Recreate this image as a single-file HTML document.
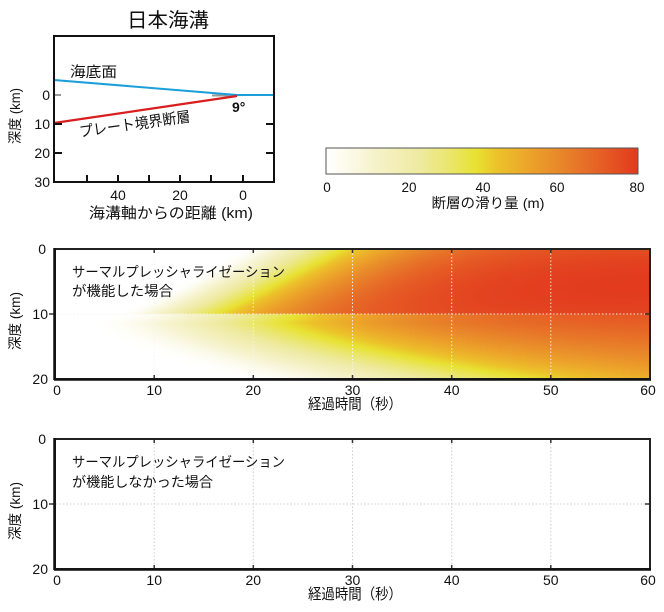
<!DOCTYPE html>
<html><head><meta charset="utf-8">
<style>
html,body{margin:0;padding:0;background:#fff;}
body{width:664px;height:612px;position:relative;overflow:hidden;}
#hm{position:absolute;left:55px;top:249px;width:595px;height:130px;}
svg{position:absolute;left:0;top:0;}
text{font-family:"Liberation Sans","Noto Sans CJK JP",sans-serif;fill:#111;}
</style></head>
<body>
<canvas id="hm" width="595" height="130"></canvas>
<svg width="664" height="612" viewBox="0 0 664 612">
<defs>
<linearGradient id="cb" x1="0" y1="0" x2="1" y2="0">
<stop offset="0" stop-color="#ffffff"/>
<stop offset="0.05" stop-color="#fdfcf0"/>
<stop offset="0.15" stop-color="#f6f3cd"/>
<stop offset="0.3" stop-color="#eeeaa0"/>
<stop offset="0.4" stop-color="#eae66a"/>
<stop offset="0.48" stop-color="#e8e232"/>
<stop offset="0.55" stop-color="#ecc22a"/>
<stop offset="0.65" stop-color="#eca42a"/>
<stop offset="0.75" stop-color="#e8872a"/>
<stop offset="0.87" stop-color="#e66226"/>
<stop offset="1" stop-color="#e23a1e"/>
</linearGradient>
</defs>

<!-- ===== Top plot ===== -->
<text x="168" y="27" font-size="20" text-anchor="middle" textLength="82" lengthAdjust="spacingAndGlyphs">日本海溝</text>
<g stroke="#999" stroke-width="2"><line x1="212" y1="95.5" x2="237" y2="95.5"/><line x1="54" y1="95" x2="61" y2="95"/></g>
<polyline points="54,80 237,95 274,95" fill="none" stroke="#1a9fd8" stroke-width="2"/>
<line x1="54" y1="123" x2="237" y2="96" stroke="#d81e1e" stroke-width="2.2"/>
<g stroke="#111" stroke-width="2">
<line x1="87" y1="182" x2="87" y2="175"/><line x1="118" y1="182" x2="118" y2="175"/>
<line x1="149" y1="182" x2="149" y2="175"/><line x1="180" y1="182" x2="180" y2="175"/>
<line x1="211" y1="182" x2="211" y2="175"/><line x1="243" y1="182" x2="243" y2="175"/>
<line x1="54" y1="124" x2="62" y2="124"/><line x1="54" y1="153" x2="62" y2="153"/>
<line x1="274" y1="124" x2="266" y2="124"/><line x1="274" y1="153" x2="266" y2="153"/>
</g>
<rect x="54" y="36" width="220" height="146" fill="none" stroke="#111" stroke-width="2"/>
<text x="70" y="77" font-size="14.5" textLength="47" lengthAdjust="spacingAndGlyphs">海底面</text>
<text x="0" y="0" font-size="15" transform="translate(80,137) rotate(-8)" textLength="112" lengthAdjust="spacingAndGlyphs">プレート境界断層</text>
<text x="232" y="112" font-size="14" font-weight="bold">9°</text>
<g font-size="14" text-anchor="end">
<text x="50" y="100">0</text><text x="50" y="129">10</text>
<text x="50" y="158">20</text><text x="50" y="187">30</text>
</g>
<g font-size="14" text-anchor="middle">
<text x="118" y="200">40</text><text x="180" y="200">20</text><text x="243" y="200">0</text>
</g>
<text x="171" y="218" font-size="15" text-anchor="middle" textLength="164" lengthAdjust="spacingAndGlyphs">海溝軸からの距離 (km)</text>
<text transform="translate(20,116) rotate(-90)" font-size="14" text-anchor="middle" textLength="56" lengthAdjust="spacingAndGlyphs">深度 (km)</text>

<!-- ===== Colorbar ===== -->
<rect x="326" y="148" width="312" height="26" fill="url(#cb)" stroke="#555" stroke-width="1"/>
<g font-size="13.5" text-anchor="middle">
<text x="327" y="192">0</text><text x="409" y="192">20</text><text x="483" y="192">40</text>
<text x="557" y="192">60</text><text x="637" y="192">80</text>
</g>
<text x="488" y="208" font-size="14" text-anchor="middle" textLength="113" lengthAdjust="spacingAndGlyphs">断層の滑り量 (m)</text>

<!-- ===== Middle plot ===== -->
<g stroke="#f4f4f4" stroke-width="1" stroke-dasharray="1.5,2" opacity="0.9">
<line x1="154.2" y1="250" x2="154.2" y2="378"/><line x1="253.3" y1="250" x2="253.3" y2="378"/>
<line x1="352.5" y1="250" x2="352.5" y2="378"/><line x1="451.7" y1="250" x2="451.7" y2="378"/>
<line x1="550.8" y1="250" x2="550.8" y2="378"/><line x1="56" y1="314" x2="649" y2="314"/>
</g>
<g stroke="#333" stroke-width="1.5">
<line x1="154.2" y1="249" x2="154.2" y2="253"/><line x1="253.3" y1="249" x2="253.3" y2="253"/>
<line x1="352.5" y1="249" x2="352.5" y2="253"/><line x1="451.7" y1="249" x2="451.7" y2="253"/>
<line x1="550.8" y1="249" x2="550.8" y2="253"/>
<line x1="154.2" y1="379" x2="154.2" y2="375"/><line x1="253.3" y1="379" x2="253.3" y2="375"/>
<line x1="352.5" y1="379" x2="352.5" y2="375"/><line x1="451.7" y1="379" x2="451.7" y2="375"/>
<line x1="550.8" y1="379" x2="550.8" y2="375"/>
<line x1="650" y1="314" x2="645" y2="314"/><line x1="49" y1="314" x2="55" y2="314"/>
</g>
<rect x="55" y="249" width="595" height="130" fill="none" stroke="#222" stroke-width="2"/>
<line x1="54.5" y1="248" x2="54.5" y2="380" stroke="#111" stroke-width="2.5"/>
<line x1="54" y1="379.5" x2="651" y2="379.5" stroke="#111" stroke-width="2.5"/>
<text x="72" y="277" font-size="14" textLength="213" lengthAdjust="spacingAndGlyphs">サーマルプレッシャライゼーション</text>
<text x="72" y="296" font-size="14" textLength="101" lengthAdjust="spacingAndGlyphs">が機能した場合</text>
<g font-size="14" text-anchor="end">
<text x="46" y="254">0</text><text x="48" y="319">10</text><text x="48" y="384">20</text>
</g>
<g font-size="14" text-anchor="middle">
<text x="57" y="395">0</text><text x="154.2" y="395">10</text><text x="253.3" y="395">20</text>
<text x="352.5" y="395">30</text><text x="451.7" y="395">40</text><text x="550.8" y="395">50</text>
<text x="648" y="395">60</text>
</g>
<text x="355" y="409" font-size="15" text-anchor="middle" textLength="94" lengthAdjust="spacingAndGlyphs">経過時間（秒）</text>
<text transform="translate(20,321) rotate(-90)" font-size="14" text-anchor="middle" textLength="58" lengthAdjust="spacingAndGlyphs">深度 (km)</text>

<!-- ===== Bottom plot ===== -->
<g stroke="#cfcfcf" stroke-width="1" stroke-dasharray="1.5,2">
<line x1="154.2" y1="440" x2="154.2" y2="568"/><line x1="253.3" y1="440" x2="253.3" y2="568"/>
<line x1="352.5" y1="440" x2="352.5" y2="568"/><line x1="451.7" y1="440" x2="451.7" y2="568"/>
<line x1="550.8" y1="440" x2="550.8" y2="568"/><line x1="56" y1="504" x2="649" y2="504"/>
</g>
<g stroke="#333" stroke-width="1.5">
<line x1="154.2" y1="439" x2="154.2" y2="443"/><line x1="253.3" y1="439" x2="253.3" y2="443"/>
<line x1="352.5" y1="439" x2="352.5" y2="443"/><line x1="451.7" y1="439" x2="451.7" y2="443"/>
<line x1="550.8" y1="439" x2="550.8" y2="443"/>
<line x1="154.2" y1="569" x2="154.2" y2="565"/><line x1="253.3" y1="569" x2="253.3" y2="565"/>
<line x1="352.5" y1="569" x2="352.5" y2="565"/><line x1="451.7" y1="569" x2="451.7" y2="565"/>
<line x1="550.8" y1="569" x2="550.8" y2="565"/>
<line x1="650" y1="504" x2="645" y2="504"/><line x1="49" y1="504" x2="55" y2="504"/>
</g>
<rect x="55" y="439" width="595" height="130" fill="none" stroke="#222" stroke-width="2"/>
<line x1="54.5" y1="438" x2="54.5" y2="570" stroke="#111" stroke-width="2.5"/>
<line x1="54" y1="569.5" x2="651" y2="569.5" stroke="#111" stroke-width="2.5"/>
<text x="72" y="467" font-size="14" textLength="213" lengthAdjust="spacingAndGlyphs">サーマルプレッシャライゼーション</text>
<text x="72" y="487" font-size="14" textLength="141" lengthAdjust="spacingAndGlyphs">が機能しなかった場合</text>
<g font-size="14" text-anchor="end">
<text x="46" y="444">0</text><text x="48" y="509">10</text><text x="48" y="574">20</text>
</g>
<g font-size="14" text-anchor="middle">
<text x="57" y="585">0</text><text x="154.2" y="585">10</text><text x="253.3" y="585">20</text>
<text x="352.5" y="585">30</text><text x="451.7" y="585">40</text><text x="550.8" y="585">50</text>
<text x="648" y="585">60</text>
</g>
<text x="355" y="599" font-size="15" text-anchor="middle" textLength="94" lengthAdjust="spacingAndGlyphs">経過時間（秒）</text>
<text transform="translate(20,511) rotate(-90)" font-size="14" text-anchor="middle" textLength="58" lengthAdjust="spacingAndGlyphs">深度 (km)</text>
</svg>
<script>
(function(){
var stops=[[0,[255,255,255]],[0.05,[253,252,240]],[0.15,[246,243,205]],[0.3,[238,234,160]],[0.4,[234,230,106]],[0.48,[232,226,50]],[0.55,[236,194,42]],[0.65,[236,164,42]],[0.75,[232,135,42]],[0.87,[230,98,38]],[1,[226,58,30]]];
function cmap(f){
 if(f<=0)return stops[0][1];if(f>=1)return stops[stops.length-1][1];
 for(var i=1;i<stops.length;i++){if(f<=stops[i][0]){var a=stops[i-1],b=stops[i];var u=(f-a[0])/(b[0]-a[0]);
 return [a[1][0]+(b[1][0]-a[1][0])*u,a[1][1]+(b[1][1]-a[1][1])*u,a[1][2]+(b[1][2]-a[1][2])*u];}}
 return stops[stops.length-1][1];
}
function slip(t,z){
 var ta;
 if(z<11.3) ta=3.7+15.3*Math.pow((11.3-z)/11.3,0.8);
 else ta=3.7+15*Math.pow((z-11.3)/8.7,1.5);
 var dt=t-ta; if(dt<=0)return 0;
 var smax,tau,q;
 if(z<10){smax=80-0.15*(z-5.5)*(z-5.5);tau=13;q=1.4;}
 else{smax=74-1.8*(z-10);tau=22+0.5*(z-10);q=1.6;}
 return smax*(1-Math.exp(-Math.pow(dt/tau,q)));
}
var c=document.getElementById('hm');var ctx=c.getContext('2d');
var W=595,H=130;var img=ctx.createImageData(W,H);var d=img.data;
for(var py=0;py<H;py++){var z=(py+0.5)/H*20;
 for(var px=0;px<W;px++){var t=(px+0.5)/W*60;var s=slip(t,z);
  var col=cmap(s/80);var k=(py*W+px)*4;d[k]=col[0];d[k+1]=col[1];d[k+2]=col[2];d[k+3]=255;}}
ctx.putImageData(img,0,0);
})();
</script>
</body></html>
